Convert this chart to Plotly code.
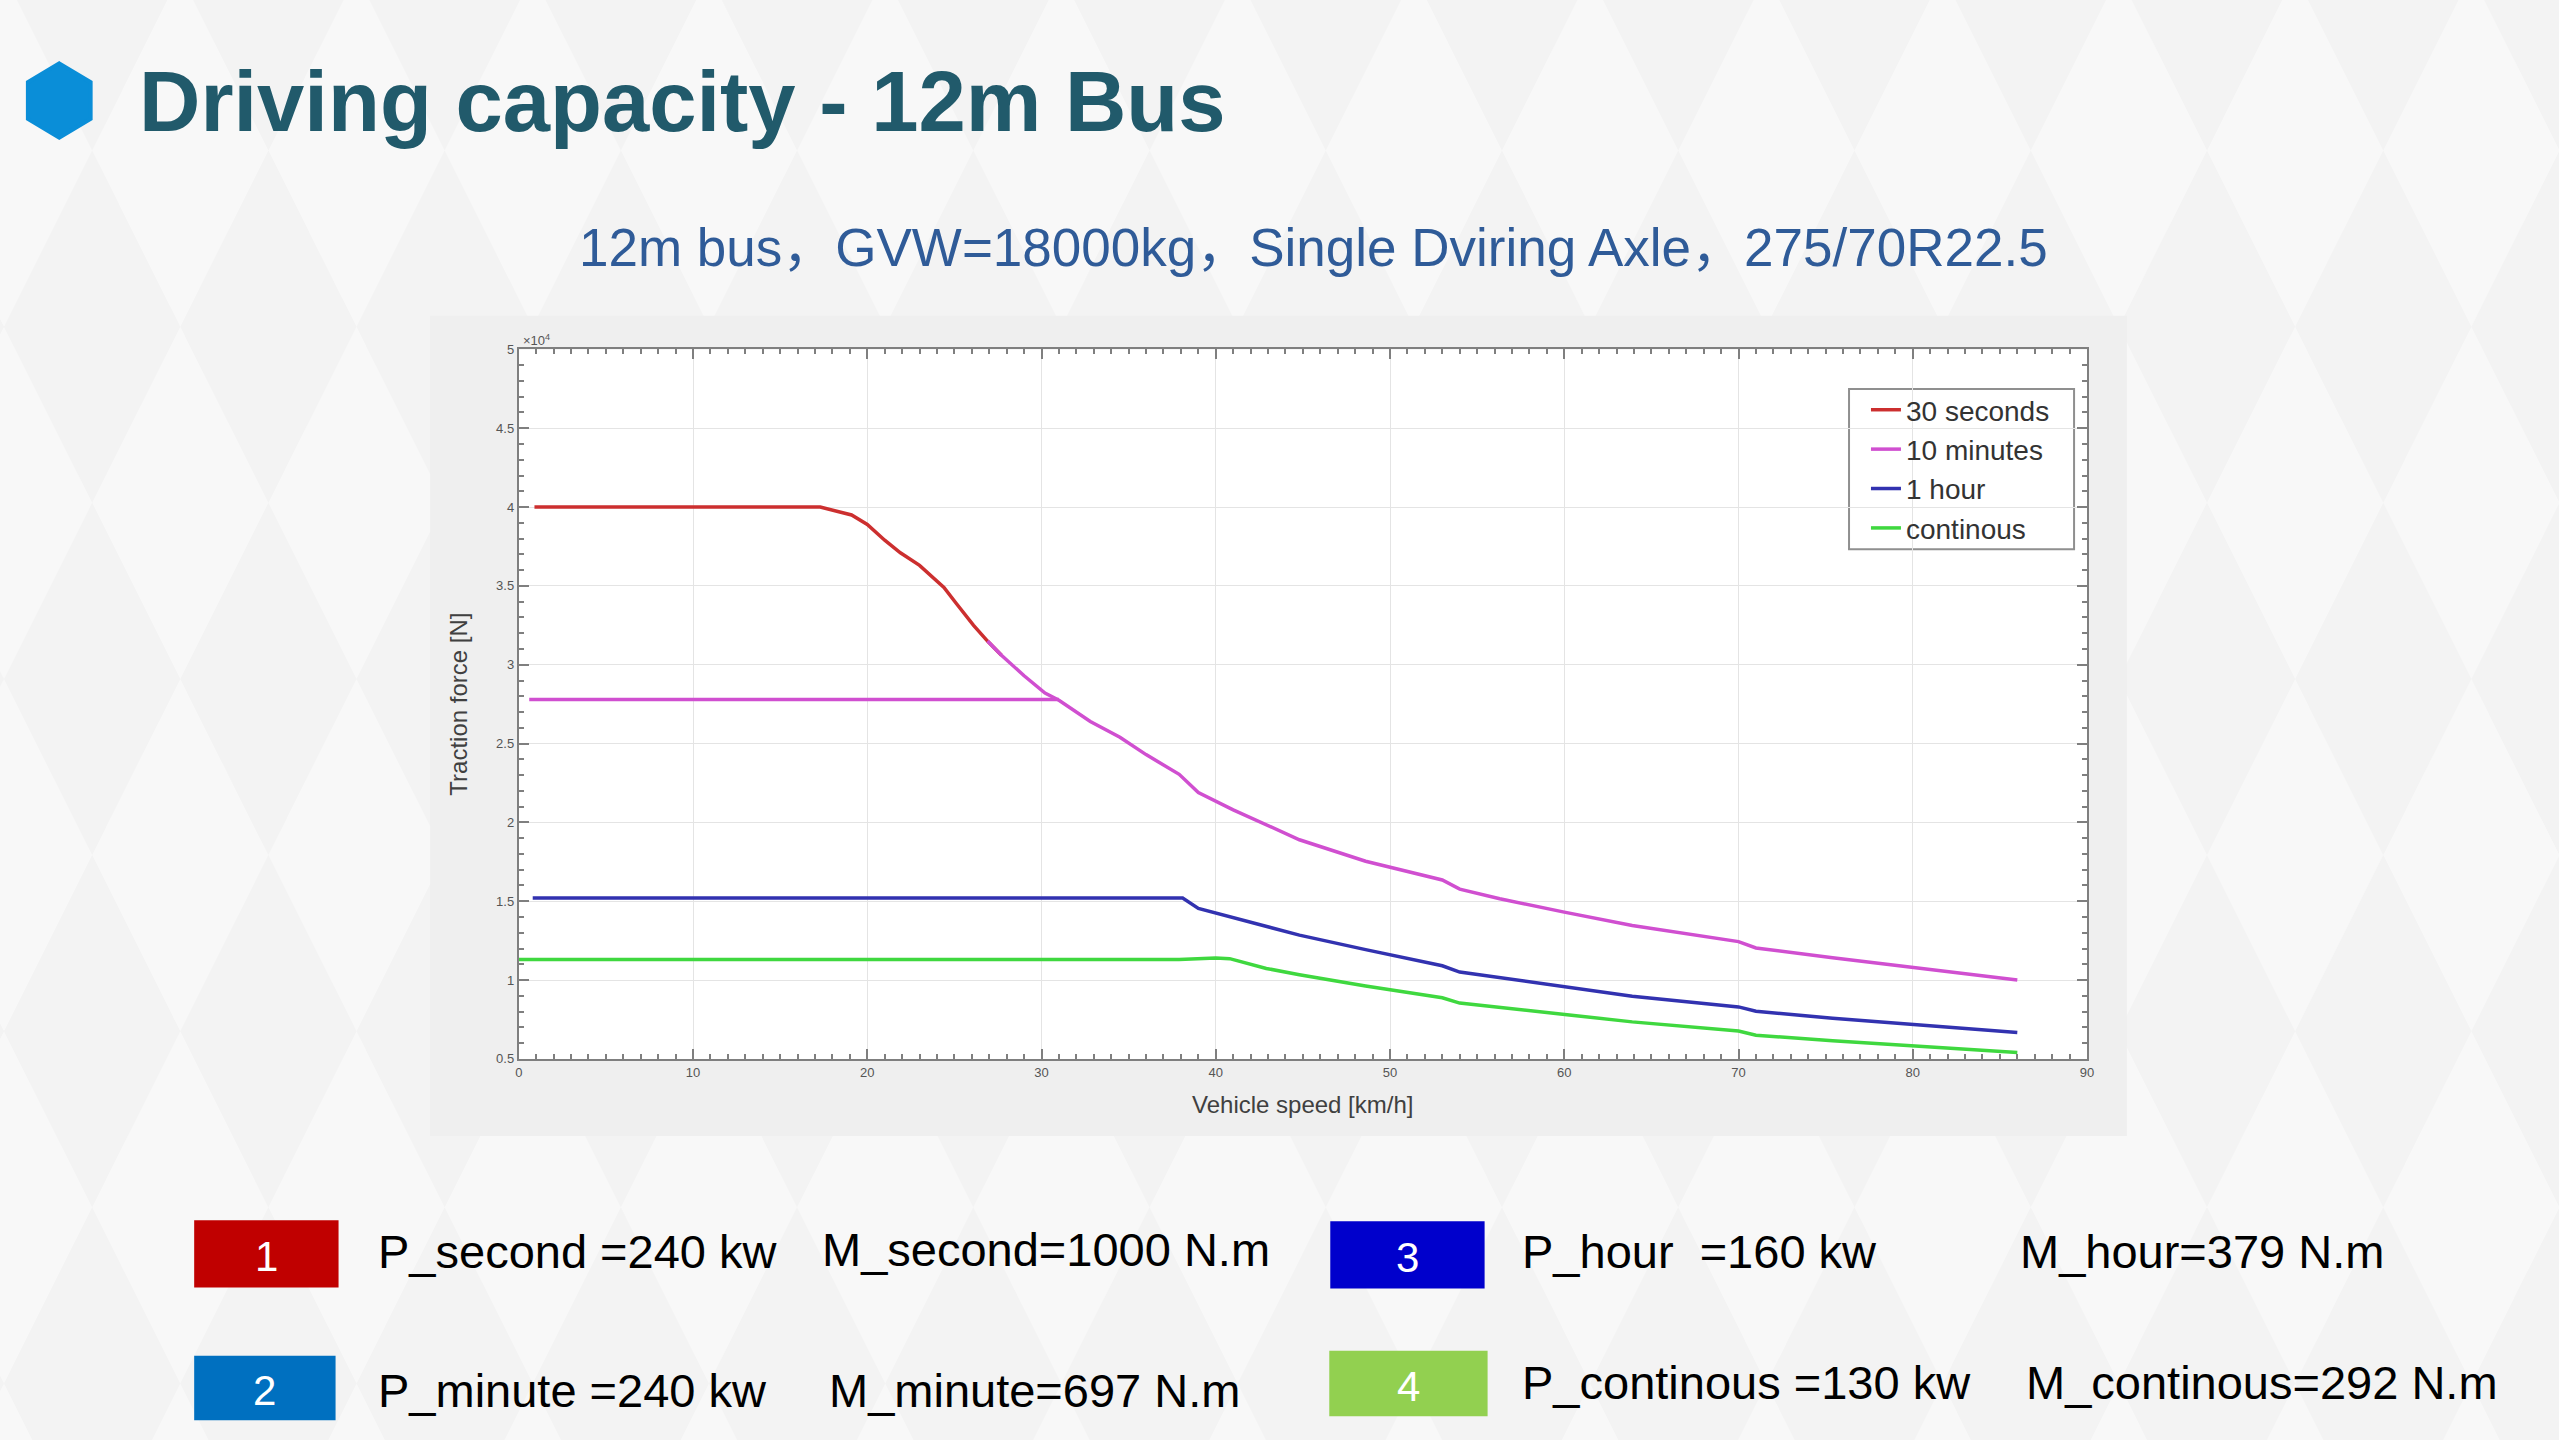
import plotly.graph_objects as go

# ---------------- data ----------------
speed_30s = [0.9, 17.3, 19.1, 20.0, 21.0, 21.9, 23.0, 24.4, 25.1, 26.1, 26.9, 27.7]
force_30s = [40000, 40000, 39500, 38900, 37900, 37100, 36300, 34900, 33900, 32500, 31500, 30600]

speed_10min_flat = [0.6, 31.0]
force_10min_flat = [27800, 27800]
speed_10min_curve = [26.9, 27.7, 29.0, 30.2, 31.0, 32.8, 34.5, 36.0, 37.9, 39.0, 41.0, 44.8,
                     48.6, 53.0, 54.0, 56.3, 60.0, 63.9, 70.0, 71.0, 75.4, 80.0, 86.0]
force_10min_curve = [31500, 30600, 29300, 28200, 27750, 26400, 25400, 24300, 23050, 21900, 20800, 18900,
                     17540, 16350, 15770, 15160, 14310, 13460, 12440, 12040, 11420, 10810, 10000]

speed_1h = [0.8, 38.1, 39.0, 41.0, 44.8, 48.6, 53.0, 54.0, 60.0, 63.9, 70.0, 71.0, 75.4, 80.0, 86.0]
force_1h = [15200, 15200, 14550, 13970, 12850, 11930, 10910, 10510, 9550, 8980, 8300, 8020, 7580, 7180, 6670]

speed_cont = [0.0, 37.9, 40.0, 40.8, 42.9, 44.8, 48.6, 53.0, 54.0, 60.0, 63.9, 70.0, 71.0, 75.4, 80.0, 86.0]
force_cont = [11300, 11300, 11400, 11360, 10740, 10340, 9620, 8880, 8540, 7790, 7350, 6770, 6500, 6160, 5820, 5410]

series_names = ["30 seconds", "10 minutes", "1 hour", "continous"]
series_colors = ["#cc2f2f", "#d04fd0", "#3232b0", "#3fd83f"]

y_tickvals = [5000, 10000, 15000, 20000, 25000, 30000, 35000, 40000, 45000, 50000]
y_ticktext = ["0.5", "1", "1.5", "2", "2.5", "3", "3.5", "4", "4.5", "5"]
x_tickvals = [0, 10, 20, 30, 40, 50, 60, 70, 80, 90]

box_numbers = ["1", "2", "3", "4"]
box_colors = ["#c00000", "#0070c0", "#0000cc", "#92d050"]
power_labels = ["P_second =240 kw", "P_minute =240 kw", "P_hour\u00a0\u00a0=160 kw", "P_continous =130 kw"]
torque_labels = ["M_second=1000 N.m", "M_minute=697 N.m", "M_hour=379 N.m", "M_continous=292 N.m"]

title_text = "Driving capacity - 12m Bus"
subtitle_text = "12m bus\uff0cGVW=18000kg\uff0cSingle Dviring Axle\uff0c275/70R22.5"

# ---------------- layout helpers ----------------
W, H = 2559, 1440


def px(x):
    return x / W


def py(y):
    return 1 - y / H


fig = go.Figure()

fig.add_trace(go.Scatter(x=speed_30s, y=force_30s, mode="lines", name=series_names[0],
                         line=dict(color=series_colors[0], width=3.5)))
fig.add_trace(go.Scatter(x=speed_10min_flat + [None] + speed_10min_curve,
                         y=force_10min_flat + [None] + force_10min_curve,
                         mode="lines", name=series_names[1], connectgaps=False,
                         line=dict(color=series_colors[1], width=3.5)))
fig.add_trace(go.Scatter(x=speed_1h, y=force_1h, mode="lines", name=series_names[2],
                         line=dict(color=series_colors[2], width=3.5)))
fig.add_trace(go.Scatter(x=speed_cont, y=force_cont, mode="lines", name=series_names[3],
                         line=dict(color=series_colors[3], width=3.5)))

axis_common = dict(
    showline=True, linecolor="#7f7f7f", linewidth=2, mirror="ticks",
    ticks="inside", ticklen=10, tickwidth=1.5, tickcolor="#7f7f7f",
    showgrid=True, gridcolor="#e4e4e4", gridwidth=1, zeroline=False,
    tickfont=dict(family="Liberation Sans, Arial, sans-serif", size=13, color="#555555"),
)

fig.update_layout(
    autosize=True,
    margin=dict(l=0, r=0, t=0, b=0),
    paper_bgcolor="#f8f8f8",
    plot_bgcolor="#ffffff",
    showlegend=True,
    legend=dict(x=px(1870), y=py(382), xanchor="left", yanchor="top",
                bgcolor="rgba(0,0,0,0)", borderwidth=0,
                font=dict(family="Liberation Sans, Arial, sans-serif", size=28, color="#333333"),
                itemwidth=30, tracegroupgap=0),
    xaxis=dict(domain=[px(517), px(2092)], range=[0, 90], tickvals=x_tickvals,
               minor=dict(dtick=1, ticks="inside", ticklen=5, tickcolor="#7f7f7f", showgrid=False),
               **axis_common),
    yaxis=dict(domain=[py(1063), py(346)], range=[5000, 50000], tickvals=y_tickvals, ticktext=y_ticktext,
               minor=dict(dtick=1000, ticks="inside", ticklen=5, tickcolor="#7f7f7f", showgrid=False),
               **axis_common),
)

shapes = []
# faint diamond background pattern (slide decoration)
dw, dh = 88.5, 178.0
parts = []
for m in range(-2, 6):
    cy = 323 + 2 * dh * m
    for k in range(-1, 16):
        cx = 88.5 + 2 * dw * k
        pts = [(cx, cy - dh), (cx + dw, cy), (cx, cy + dh), (cx - dw, cy)]
        parts.append("M " + " L ".join(f"{px(a):.5f},{py(b):.5f}" for a, b in pts) + " Z")
shapes.append(dict(type="path", xref="paper", yref="paper", path=" ".join(parts),
                   fillcolor="#f3f3f3", line=dict(width=0), layer="below"))
# chart image backdrop
shapes.append(dict(type="rect", xref="paper", yref="paper", x0=px(428), x1=px(2132), y0=py(1141), y1=py(312),
                   fillcolor="#efefef", line=dict(width=0), layer="below"))
# white plot area
shapes.append(dict(type="rect", xref="paper", yref="paper", x0=px(517), x1=px(2092), y0=py(1063), y1=py(346),
                   fillcolor="#ffffff", line=dict(width=0), layer="below"))
# legend frame
shapes.append(dict(type="rect", xref="paper", yref="paper", x0=px(1853), x1=px(2079), y0=py(548), y1=py(386),
                   fillcolor="#ffffff", line=dict(color="#8f8f8f", width=2), layer="below"))
# hexagon icon
hx = [55.5, 87, 87, 55.5, 24, 24]
hy = [57, 76, 113, 132, 113, 76]
path = "M " + " L ".join(f"{px(a):.5f},{py(b):.5f}" for a, b in zip(hx, hy)) + " Z"
shapes.append(dict(type="path", xref="paper", yref="paper", path=path,
                   fillcolor="#0a8ed8", line=dict(color="#0a8ed8", width=4)))
# bottom number boxes
box_rects = [(191, 1226, 336, 1294), (191, 1363, 333, 1428), (1332, 1227, 1487, 1295), (1331, 1358, 1490, 1424)]
for (x0, y0, x1, y1), c in zip(box_rects, box_colors):
    shapes.append(dict(type="rect", xref="paper", yref="paper", x0=px(x0), x1=px(x1), y0=py(y1), y1=py(y0),
                       fillcolor=c, line=dict(width=0)))
fig.update_layout(shapes=shapes)

ann = []
ann.append(dict(text=f"<b>{title_text}</b>", x=px(134), y=py(95), xref="paper", yref="paper",
                xanchor="left", yanchor="middle", showarrow=False,
                font=dict(family="Liberation Sans, Arial, sans-serif", size=85, color="#215a6b")))
ann.append(dict(text=subtitle_text, x=px(1315), y=py(243), xref="paper", yref="paper",
                xanchor="center", yanchor="middle", showarrow=False,
                font=dict(family="Liberation Sans, Noto Sans CJK SC, sans-serif", size=53, color="#2f5b98")))
ann.append(dict(text="Traction force [N]", x=px(457), y=py(705), xref="paper", yref="paper",
                xanchor="center", yanchor="middle", textangle=-90, showarrow=False,
                font=dict(family="Liberation Sans, Arial, sans-serif", size=24, color="#404040")))
ann.append(dict(text="Vehicle speed [km/h]", x=px(1304), y=py(1109), xref="paper", yref="paper",
                xanchor="center", yanchor="middle", showarrow=False,
                font=dict(family="Liberation Sans, Arial, sans-serif", size=24, color="#404040")))
ann.append(dict(text="\u00d710<sup>4</sup>", x=px(519), y=py(336), xref="paper", yref="paper",
                xanchor="left", yanchor="middle", showarrow=False,
                font=dict(family="Liberation Sans, Arial, sans-serif", size=13, color="#555555")))

bottom_font = "Liberation Sans, Arial, sans-serif"
power_pos = [(374, 1258), (374, 1398), (1523, 1258), (1523, 1390)]
torque_pos = [(820, 1256), (827, 1398), (2023, 1258), (2029, 1390)]
for i in range(4):
    x0, y0, x1, y1 = box_rects[i]
    ann.append(dict(text=box_numbers[i], x=px((x0 + x1) / 2), y=py((y0 + y1) / 2 + 3), xref="paper", yref="paper",
                    xanchor="center", yanchor="middle", showarrow=False,
                    font=dict(family=bottom_font, size=42, color="#ffffff")))
    ann.append(dict(text=power_labels[i], x=px(power_pos[i][0]), y=py(power_pos[i][1]), xref="paper", yref="paper",
                    xanchor="left", yanchor="middle", showarrow=False,
                    font=dict(family=bottom_font, size=47, color="#000000")))
    ann.append(dict(text=torque_labels[i], x=px(torque_pos[i][0]), y=py(torque_pos[i][1]), xref="paper", yref="paper",
                    xanchor="left", yanchor="middle", showarrow=False,
                    font=dict(family=bottom_font, size=47, color="#000000")))
fig.update_layout(annotations=ann)

fig.write_html("out.html", config={"displayModeBar": False, "responsive": True},
               default_width="100vw", default_height="100vh",
               post_script="document.body.style.margin='0';document.body.style.overflow='hidden';")
